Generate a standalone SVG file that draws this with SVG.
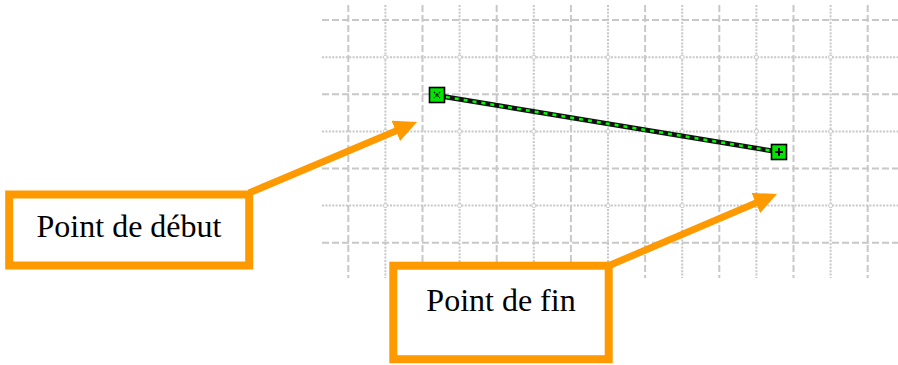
<svg xmlns="http://www.w3.org/2000/svg" width="898" height="365" viewBox="0 0 898 365">
<style>
.dash{stroke:#c8c8c8;stroke-width:2;stroke-dasharray:7 3;fill:none}
.dot{stroke:#c8c8c8;stroke-width:2;stroke-dasharray:2 1.4;fill:none}
.ring{stroke:#c8c8c8;stroke-width:1;fill:#fff}
.box{fill:#fff;stroke:#ff9900;stroke-width:8}
.arrow{stroke:#ff9900;stroke-width:7;fill:none}
.lbl{font-family:"Liberation Serif","Times New Roman",serif;font-size:32px;fill:#000;text-anchor:middle}
.pt{fill:#00e600;stroke:#000;stroke-width:1.6}
</style>
<defs>
<marker id="ah" markerUnits="userSpaceOnUse" markerWidth="24" markerHeight="24" refX="13" refY="11" orient="auto">
<path d="M0,0 L23,11 L0,22 z" fill="#ff9900"/>
</marker>
</defs>
<rect width="898" height="365" fill="#fff"/>
<g id="grid">
<g class="dot">
<path d="M385.4,5V278M459.6,5V278M533.8,5V278M608,5V278M682.2,5V278M756.4,5V278M830.6,5V278"/>
<path d="M322,57.2H898M322,131.4H898M322,205.6H898"/>
</g>
<g class="dash">
<path d="M348.3,5V278M422.5,5V278M496.7,5V278M570.9,5V278M645.1,5V278M719.3,5V278M793.5,5V278M867.7,5V278"/>
<path d="M322,20H898M322,94.3H898M322,168.5H898M322,242.7H898"/>
</g>
<g class="ring">
<circle cx="385.4" cy="57.2" r="2"/><circle cx="459.6" cy="57.2" r="2"/><circle cx="533.8" cy="57.2" r="2"/><circle cx="608" cy="57.2" r="2"/><circle cx="682.2" cy="57.2" r="2"/><circle cx="756.4" cy="57.2" r="2"/><circle cx="830.6" cy="57.2" r="2"/>
<circle cx="385.4" cy="131.4" r="2"/><circle cx="459.6" cy="131.4" r="2"/><circle cx="533.8" cy="131.4" r="2"/><circle cx="608" cy="131.4" r="2"/><circle cx="682.2" cy="131.4" r="2"/><circle cx="756.4" cy="131.4" r="2"/><circle cx="830.6" cy="131.4" r="2"/>
<circle cx="385.4" cy="205.6" r="2"/><circle cx="459.6" cy="205.6" r="2"/><circle cx="533.8" cy="205.6" r="2"/><circle cx="608" cy="205.6" r="2"/><circle cx="682.2" cy="205.6" r="2"/><circle cx="756.4" cy="205.6" r="2"/><circle cx="830.6" cy="205.6" r="2"/>
</g>
</g>
<g id="segment">
<line x1="437" y1="95.5" x2="779" y2="152" stroke="#111" stroke-width="5"/>
<line x1="437" y1="95.5" x2="779" y2="152" stroke="#00ff00" stroke-width="2.5" stroke-dasharray="4 5"/>
</g>
<g id="start-point">
<rect class="pt" x="429.5" y="87.5" width="15" height="15"/>
<path d="M434,92L440,98M440,92L434,98" stroke="#000" stroke-width="1.2" stroke-dasharray="1.5 1"/>
</g>
<g id="end-point">
<rect class="pt" x="771.5" y="144.5" width="15" height="15"/>
<path d="M779,148V156M775,152H783" stroke="#000" stroke-width="2"/>
</g>
<g id="connectors">
<line class="arrow" x1="249" y1="193" x2="407.8" y2="125.9" marker-end="url(#ah)"/>
<line class="arrow" x1="608" y1="266" x2="767.8" y2="197.9" marker-end="url(#ah)"/>
</g>
<g id="label-debut">
<rect class="box" x="9.2" y="194.5" width="240" height="71"/>
<text class="lbl" x="129" y="237">Point de début</text>
</g>
<g id="label-fin">
<rect class="box" x="393.3" y="265.7" width="215.4" height="93.5"/>
<text class="lbl" x="501" y="311">Point de fin</text>
</g>
</svg>
